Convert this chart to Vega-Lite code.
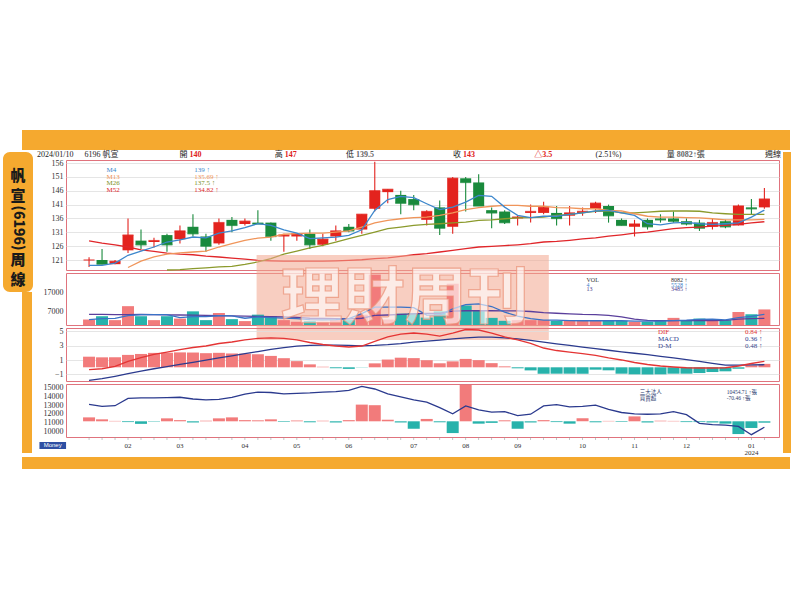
{
  "$schema": "https://vega.github.io/schema/vega-lite/v6.json",
  "background": "white",
  "padding": {"left": 3, "top": 130, "right": 0, "bottom": 0},
  "spacing": 0,
  "config": {
    "view": {"stroke": "#e0737d", "strokeWidth": 1},
    "axis": {"labelFont": "Liberation Serif", "labelFontSize": 8, "labelColor": "#333", "domain": false, "ticks": false, "grid": true, "gridColor": "#dedede", "gridWidth": 0.8, "labelPadding": 3, "labelOverlap": false},
    "concat": {"spacing": 0},
    "line": {"strokeWidth": 1.3}
  },
  "datasets": {
    "wk": [
      {"i":1,"o":121,"h":122,"l":118.5,"c":121,"v":2840,"vd":"u","m4":119.1,"m13":null,"m26":null,"m52":127.9,"v4":2800,"v13":5500,"dif":-0.33,"macd":-1.81,"dm":1.48,"inst":13090,"net":200},
      {"i":2,"o":121,"h":125,"l":119.5,"c":119.5,"v":4560,"vd":"d","m4":119.1,"m13":null,"m26":null,"m52":127.1,"v4":3300,"v13":5500,"dif":-0.2,"macd":-1.59,"dm":1.39,"inst":12860,"net":100},
      {"i":3,"o":119.5,"h":121,"l":119.5,"c":120.5,"v":2530,"vd":"u","m4":119.9,"m13":null,"m26":null,"m52":126.5,"v4":3400,"v13":5400,"dif":0.14,"macd":-1.26,"dm":1.4,"inst":12930,"net":20},
      {"i":4,"o":124.5,"h":136,"l":123.5,"c":130,"v":9780,"vd":"u","m4":122.7,"m13":118.3,"m26":null,"m52":125.7,"v4":4900,"v13":5400,"dif":0.84,"macd":-0.89,"dm":1.73,"inst":13780,"net":-40},
      {"i":5,"o":128,"h":132,"l":125,"c":126.5,"v":4560,"vd":"d","m4":124.2,"m13":120.6,"m26":null,"m52":124.7,"v4":5400,"v13":5500,"dif":1.34,"macd":-0.52,"dm":1.86,"inst":13820,"net":-130},
      {"i":6,"o":127.5,"h":129,"l":125.5,"c":128,"v":2530,"vd":"u","m4":125.7,"m13":122.1,"m26":null,"m52":124.1,"v4":5400,"v13":5400,"dif":1.81,"macd":-0.2,"dm":2.01,"inst":13820,"net":-20},
      {"i":7,"o":130,"h":130.5,"l":124,"c":126.5,"v":4560,"vd":"d","m4":127.5,"m13":123.1,"m26":117.4,"m52":123.5,"v4":5400,"v13":5300,"dif":2.13,"macd":0.1,"dm":2.03,"inst":13850,"net":150},
      {"i":8,"o":128.5,"h":133.5,"l":127,"c":131.5,"v":3340,"vd":"u","m4":128.3,"m13":123.6,"m26":117.5,"m52":123.1,"v4":3800,"v13":5200,"dif":2.48,"macd":0.4,"dm":2.08,"inst":13900,"net":60},
      {"i":9,"o":133,"h":137.5,"l":129.5,"c":130.5,"v":7090,"vd":"d","m4":129.3,"m13":123.9,"m26":117.9,"m52":122.9,"v4":4400,"v13":5100,"dif":2.76,"macd":0.7,"dm":2.06,"inst":13700,"net":-60},
      {"i":10,"o":129.5,"h":130.5,"l":124,"c":126,"v":2530,"vd":"d","m4":129.0,"m13":124.2,"m26":118.2,"m52":122.4,"v4":4400,"v13":5000,"dif":2.97,"macd":1.0,"dm":1.97,"inst":13600,"net":30},
      {"i":11,"o":127,"h":136,"l":126.5,"c":134.5,"v":6230,"vd":"u","m4":130.7,"m13":125.7,"m26":118.5,"m52":122.1,"v4":4800,"v13":4900,"dif":3.32,"macd":1.3,"dm":2.02,"inst":13650,"net":150},
      {"i":12,"o":135.5,"h":136.5,"l":131,"c":133.5,"v":3040,"vd":"d","m4":131.5,"m13":126.9,"m26":118.7,"m52":121.7,"v4":4700,"v13":4700,"dif":3.53,"macd":1.6,"dm":1.93,"inst":13900,"net":200},
      {"i":13,"o":134,"h":136,"l":133.5,"c":135,"v":2030,"vd":"u","m4":132.7,"m13":128.1,"m26":119.4,"m52":121.3,"v4":3500,"v13":4600,"dif":3.81,"macd":1.9,"dm":1.91,"inst":14250,"net":60},
      {"i":14,"o":134.5,"h":139,"l":134,"c":134,"v":5370,"vd":"d","m4":134.1,"m13":128.9,"m26":120.3,"m52":120.9,"v4":4200,"v13":4500,"dif":4.02,"macd":2.2,"dm":1.82,"inst":14500,"net":50},
      {"i":15,"o":134.5,"h":134.5,"l":128,"c":129.5,"v":4560,"vd":"d","m4":133.5,"m13":129.3,"m26":121.5,"m52":120.7,"v4":3800,"v13":4400,"dif":4.09,"macd":2.5,"dm":1.59,"inst":14450,"net":100},
      {"i":16,"o":129.5,"h":130.5,"l":124,"c":130,"v":2530,"vd":"u","m4":131.9,"m13":130.3,"m26":123.1,"m52":120.6,"v4":3600,"v13":4200,"dif":4.02,"macd":2.75,"dm":1.27,"inst":14300,"net":-30},
      {"i":17,"o":129.5,"h":130.5,"l":128,"c":130.5,"v":1670,"vd":"u","m4":130.7,"m13":130.5,"m26":124.2,"m52":120.6,"v4":3300,"v13":4000,"dif":3.81,"macd":2.95,"dm":0.86,"inst":14350,"net":40},
      {"i":18,"o":130.5,"h":132,"l":125,"c":126.5,"v":2030,"vd":"d","m4":128.7,"m13":130.7,"m26":125.4,"m52":120.6,"v4":2800,"v13":3500,"dif":3.46,"macd":3.05,"dm":0.41,"inst":14400,"net":-50},
      {"i":19,"o":126.5,"h":130.5,"l":126,"c":128.5,"v":1670,"vd":"u","m4":129.0,"m13":130.7,"m26":126.3,"m52":120.6,"v4":2700,"v13":3400,"dif":3.18,"macd":3.1,"dm":0.08,"inst":14500,"net":30},
      {"i":20,"o":129.5,"h":133.5,"l":128,"c":131.5,"v":2530,"vd":"u","m4":129.3,"m13":131.1,"m26":127.5,"m52":120.7,"v4":2800,"v13":3300,"dif":2.97,"macd":3.1,"dm":-0.13,"inst":14550,"net":-60},
      {"i":21,"o":133,"h":134,"l":131,"c":131.5,"v":2530,"vd":"d","m4":129.9,"m13":131.5,"m26":128.7,"m52":120.9,"v4":3300,"v13":3200,"dif":2.83,"macd":3.05,"dm":-0.22,"inst":14700,"net":60},
      {"i":22,"o":132,"h":137.5,"l":130.5,"c":137.5,"v":5370,"vd":"u","m4":131.9,"m13":132.9,"m26":129.9,"m52":121.1,"v4":5900,"v13":3500,"dif":2.97,"macd":3.0,"dm":-0.03,"inst":15150,"net":850},
      {"i":23,"o":139.5,"h":156.5,"l":138.5,"c":146,"v":26150,"vd":"u","m4":138.9,"m13":134.4,"m26":131.1,"m52":121.5,"v4":9300,"v13":5000,"dif":3.6,"macd":3.05,"dm":0.55,"inst":14850,"net":820},
      {"i":24,"o":145.5,"h":146.5,"l":141.5,"c":146.5,"v":2840,"vd":"u","m4":142.8,"m13":135.3,"m26":132.3,"m52":121.8,"v4":9300,"v13":5200,"dif":4.23,"macd":3.15,"dm":1.08,"inst":14300,"net":80},
      {"i":25,"o":144.5,"h":146,"l":137.5,"c":141.5,"v":5880,"vd":"d","m4":144.0,"m13":135.9,"m26":132.9,"m52":122.3,"v4":9300,"v13":5500,"dif":4.64,"macd":3.3,"dm":1.34,"inst":13950,"net":-60},
      {"i":26,"o":143,"h":144.5,"l":139,"c":141,"v":6230,"vd":"d","m4":143.5,"m13":136.3,"m26":133.5,"m52":122.9,"v4":9000,"v13":5800,"dif":4.78,"macd":3.5,"dm":1.28,"inst":13600,"net":-380},
      {"i":27,"o":135.5,"h":139,"l":133.5,"c":138.5,"v":3850,"vd":"d","m4":141.3,"m13":136.5,"m26":133.9,"m52":123.3,"v4":5100,"v13":6000,"dif":4.64,"macd":3.65,"dm":0.99,"inst":13350,"net":120},
      {"i":28,"o":140,"h":142.5,"l":130,"c":132.5,"v":7090,"vd":"d","m4":139.2,"m13":137.1,"m26":134.1,"m52":123.9,"v4":5100,"v13":6000,"dif":4.36,"macd":3.8,"dm":0.56,"inst":12700,"net":-50},
      {"i":29,"o":133,"h":151,"l":130.5,"c":150.5,"v":21430,"vd":"u","m4":140.1,"m13":138.0,"m26":134.4,"m52":124.5,"v4":8400,"v13":7200,"dif":4.78,"macd":3.95,"dm":0.83,"inst":12000,"net":-600},
      {"i":30,"o":150.5,"h":151,"l":138.5,"c":149,"v":10130,"vd":"d","m4":141.9,"m13":139.2,"m26":134.7,"m52":125.1,"v4":10600,"v13":7400,"dif":5.27,"macd":4.1,"dm":1.17,"inst":12900,"net":1850},
      {"i":31,"o":149,"h":152,"l":141,"c":140.5,"v":7250,"vd":"d","m4":144.3,"m13":139.9,"m26":135.3,"m52":125.7,"v4":10950,"v13":7400,"dif":5.2,"macd":4.2,"dm":1.0,"inst":12450,"net":-120},
      {"i":32,"o":139,"h":140,"l":132.5,"c":138,"v":3700,"vd":"d","m4":144.0,"m13":140.4,"m26":135.5,"m52":125.9,"v4":9600,"v13":7400,"dif":4.78,"macd":4.2,"dm":0.58,"inst":12200,"net":-80},
      {"i":33,"o":138.5,"h":139,"l":134,"c":134.5,"v":2180,"vd":"d","m4":140.1,"m13":140.7,"m26":135.9,"m52":126.2,"v4":6700,"v13":7300,"dif":4.23,"macd":4.1,"dm":0.13,"inst":12250,"net":50},
      {"i":34,"o":136,"h":137,"l":133.5,"c":136.5,"v":2530,"vd":"u","m4":137.1,"m13":140.7,"m26":136.2,"m52":126.5,"v4":4600,"v13":7300,"dif":3.81,"macd":3.95,"dm":-0.14,"inst":11800,"net":-380},
      {"i":35,"o":138,"h":141,"l":134.5,"c":138.5,"v":2530,"vd":"u","m4":136.3,"m13":140.4,"m26":136.3,"m52":126.9,"v4":3300,"v13":7000,"dif":3.32,"macd":3.75,"dm":-0.43,"inst":11950,"net":-60},
      {"i":36,"o":138,"h":142,"l":137.5,"c":140,"v":2530,"vd":"u","m4":136.8,"m13":140.4,"m26":136.5,"m52":127.5,"v4":2500,"v13":6400,"dif":2.69,"macd":3.5,"dm":-0.9,"inst":12900,"net":60},
      {"i":37,"o":138,"h":140.5,"l":133.5,"c":136,"v":2180,"vd":"d","m4":136.8,"m13":139.9,"m26":137.1,"m52":127.7,"v4":2500,"v13":6100,"dif":2.34,"macd":3.28,"dm":-0.89,"inst":13050,"net":-40},
      {"i":38,"o":137,"h":140.5,"l":133.5,"c":138,"v":2180,"vd":"u","m4":137.5,"m13":139.8,"m26":137.5,"m52":128.1,"v4":2300,"v13":5800,"dif":2.13,"macd":3.05,"dm":-0.89,"inst":12800,"net":-120},
      {"i":39,"o":138,"h":140,"l":137,"c":138.5,"v":2180,"vd":"u","m4":138.0,"m13":139.5,"m26":138.0,"m52":128.6,"v4":2200,"v13":5500,"dif":1.9,"macd":2.82,"dm":-0.89,"inst":12850,"net":150},
      {"i":40,"o":139.5,"h":142,"l":138,"c":141.5,"v":2180,"vd":"u","m4":138.7,"m13":139.5,"m26":138.6,"m52":129.0,"v4":2200,"v13":5400,"dif":1.65,"macd":2.6,"dm":-0.33,"inst":13000,"net":-50},
      {"i":41,"o":140.5,"h":141,"l":134.5,"c":137,"v":2180,"vd":"d","m4":138.9,"m13":138.9,"m26":138.7,"m52":129.6,"v4":2200,"v13":5000,"dif":1.3,"macd":2.38,"dm":-0.42,"inst":12500,"net":20},
      {"i":42,"o":135.5,"h":136,"l":133.5,"c":133.5,"v":2180,"vd":"d","m4":138.0,"m13":138.7,"m26":138.0,"m52":130.1,"v4":2200,"v13":4200,"dif":1.02,"macd":2.16,"dm":-0.89,"inst":12150,"net":-30},
      {"i":43,"o":133,"h":135.5,"l":129.5,"c":134,"v":1670,"vd":"u","m4":137.1,"m13":137.7,"m26":138.0,"m52":130.7,"v4":2000,"v13":3000,"dif":0.67,"macd":1.96,"dm":-0.98,"inst":12000,"net":250},
      {"i":44,"o":135.5,"h":136,"l":132,"c":133,"v":1670,"vd":"d","m4":134.1,"m13":136.8,"m26":138.3,"m52":131.1,"v4":2000,"v13":2400,"dif":0.39,"macd":1.76,"dm":-1.0,"inst":11950,"net":-60},
      {"i":45,"o":136,"h":137.5,"l":134.5,"c":135.5,"v":2030,"vd":"d","m4":133.7,"m13":136.5,"m26":138.6,"m52":131.7,"v4":2000,"v13":2300,"dif":0.18,"macd":1.52,"dm":-0.98,"inst":12000,"net":30},
      {"i":46,"o":136,"h":138.5,"l":134.5,"c":135,"v":3700,"vd":"u","m4":134.4,"m13":136.5,"m26":138.7,"m52":132.3,"v4":2300,"v13":2300,"dif":0.04,"macd":1.3,"dm":-0.89,"inst":12250,"net":20},
      {"i":47,"o":135,"h":136,"l":133.5,"c":134,"v":2530,"vd":"d","m4":134.6,"m13":136.3,"m26":138.7,"m52":132.7,"v4":2500,"v13":2300,"dif":-0.06,"macd":1.07,"dm":-0.89,"inst":11900,"net":-40},
      {"i":48,"o":134.5,"h":135.5,"l":131.5,"c":132.5,"v":3340,"vd":"d","m4":134.1,"m13":136.2,"m26":138.6,"m52":132.9,"v4":2900,"v13":2300,"dif":-0.1,"macd":0.84,"dm":-0.8,"inst":10900,"net":-40},
      {"i":49,"o":133,"h":136,"l":132,"c":134.5,"v":2530,"vd":"u","m4":133.9,"m13":135.9,"m26":138.0,"m52":133.2,"v4":3000,"v13":2300,"dif":-0.1,"macd":0.55,"dm":-0.66,"inst":10750,"net":-60},
      {"i":50,"o":135,"h":135.5,"l":132.5,"c":133,"v":2530,"vd":"d","m4":134.1,"m13":135.5,"m26":137.7,"m52":133.5,"v4":2700,"v13":2400,"dif":-0.06,"macd":0.3,"dm":-0.56,"inst":10700,"net":-120},
      {"i":51,"o":133.5,"h":141,"l":133.5,"c":140.5,"v":6740,"vd":"u","m4":134.4,"m13":135.5,"m26":137.5,"m52":133.9,"v4":3800,"v13":3000,"dif":0.18,"macd":0.3,"dm":-0.2,"inst":10550,"net":-650},
      {"i":52,"o":140,"h":143,"l":137.5,"c":139.5,"v":5570,"vd":"d","m4":136.5,"m13":135.5,"m26":137.5,"m52":134.4,"v4":4500,"v13":3300,"dif":0.53,"macd":0.33,"dm":0.28,"inst":9600,"net":-340},
      {"i":53,"o":140,"h":147,"l":139.5,"c":143,"v":8082,"vd":"u","m4":139,"m13":135.69,"m26":137.5,"m52":134.82,"v4":5528,"v13":3485,"dif":0.84,"macd":0.36,"dm":0.48,"inst":10454.71,"net":-70.46}
    ],
    "mon": [
      {"i":4,"m":"02"},{"i":8,"m":"03"},{"i":13,"m":"04"},{"i":17,"m":"05"},{"i":21,"m":"06"},{"i":26,"m":"07"},
      {"i":30,"m":"08"},{"i":34,"m":"09"},{"i":39,"m":"10"},{"i":43,"m":"11"},{"i":47,"m":"12"},{"i":52,"m":["01","2024"]}
    ],
    "hdr": [
      {"key":"date","lab":"2024/01/10","val":"","tone":"flat"},
      {"key":"name","lab":"6196 帆宣","val":"","tone":"flat"},
      {"key":"open","lab":"開","val":"140","tone":"up"},
      {"key":"high","lab":"高","val":"147","tone":"up"},
      {"key":"low","lab":"低","val":"139.5","tone":"flat"},
      {"key":"close","lab":"收","val":"143","tone":"up"},
      {"key":"chg","lab":"","val":"△3.5","tone":"up"},
      {"key":"pct","lab":"(2.51%)","val":"","tone":"flat"},
      {"key":"vol","lab":"量","val":"8082↑張","tone":"flat"},
      {"key":"period","lab":"週線","val":"","tone":"flat"}
    ],
    "tab": [
      {"t":"帆"},
      {"t":"宣"},
      {"t":"(6196)"},
      {"t":"周"},
      {"t":"線"}
    ],
    "lg1": [
      {"s":"M4","val":"139 ↑"},
      {"s":"M13","val":"135.69 ↑"},
      {"s":"M26","val":"137.5 ↑"},
      {"s":"M52","val":"134.82 ↑"}
    ],
    "lg2": [
      {"s":"VOL","val":"8082 ↑"},
      {"s":"4","val":"5528 ↑"},
      {"s":"13","val":"3485 ↑"}
    ],
    "lg3": [
      {"s":"DIF","val":"0.84 ↑"},
      {"s":"MACD","val":"0.36 ↑"},
      {"s":"D-M","val":"0.48 ↑"}
    ],
    "lg4": [
      {"s":"三大法人","val":"10454.71 ↑張"},
      {"s":"買賣超","val":"-70.46 ↑張"}
    ],
    "wm": [
      {"t":"理財周刊"}
    ],
    "logo": [
      {"t":"Money"}
    ]
  },
  "vconcat": [
    {"hconcat": [
      {"width": 19, "height": 20, "data": {"values": []}, "mark": "rect", "encoding": {}, "view": {"stroke": null}},
      {"width": 768, "height": 20, "data": {"values": []}, "mark": "rect", "encoding": {}, "view": {"fill": "#f5a92f", "stroke": null}}
    ]},
    {"hconcat": [
      {"vconcat": [
        {"width": 30, "height": 140, "data": {"name": "tab"}, "view": {"fill": "#f5a92f", "stroke": null, "cornerRadius": 7},
         "mark": {"type": "text", "font": "Noto Sans CJK TC", "fontWeight": 900, "align": "center", "baseline": "middle", "color": "#1a1a1a"},
         "encoding": {
           "y": {"field": "t", "type": "nominal", "axis": null,
             "scale": {"type": "point", "padding": 0, "domain": ["_0","_1","_2","_3","_4","_5","帆","_7","_8","_9","_10","宣","_12","_13","_14","_15","_16","_17","_18","(6196)","_20","_21","_22","_23","_24","_25","_26","周","_28","_29","_30","_31","線","_33","_34","_35"]}},
           "text": {"field": "t"},
           "size": {"condition": {"test": "datum.t === '(6196)'", "value": 14}, "value": 15},
           "angle": {"condition": {"test": "datum.t === '(6196)'", "value": 90}, "value": 0}
         }},
        {"hconcat": [
          {"width": 19, "height": 161, "data": {"values": []}, "mark": "rect", "encoding": {}, "view": {"stroke": null}},
          {"width": 10, "height": 161, "data": {"values": []}, "mark": "rect", "encoding": {}, "view": {"fill": "#f5a92f", "stroke": null}}
        ]}
      ]},
      {"spacing": 3, "bounds": "flush", "vconcat": [
        {"width": 713, "height": 5, "data": {"name": "hdr"}, "view": {"stroke": null},
         "encoding": {"x": {"field": "key", "type": "nominal", "axis": null,
           "scale": {"type": "point", "padding": 0,
             "domain": ["date","_1","_2","_3","name","_5","_6","_7","_8","_9","_10","_11","open","_13","_14","_15","_16","_17","_18","_19","high","_21","_22","_23","_24","_25","low","_27","_28","_29","_30","_31","_32","_33","_34","close","_36","_37","_38","_39","_40","chg","_42","_43","_44","_45","_46","pct","_48","_49","_50","_51","_52","vol","_54","_55","_56","_57","_58","_59","period"]}}},
         "layer": [
           {"transform": [{"filter": "datum.key !== 'period'"}],
            "mark": {"type": "text", "align": "left", "baseline": "middle", "dx": -29, "fontSize": 8, "font": "Liberation Serif, Noto Sans CJK TC", "color": "#222"},
            "encoding": {"text": {"field": "lab"}, "fontWeight": {"condition": {"test": "datum.key === 'date'", "value": "bold"}, "value": "normal"}}},
           {"transform": [{"filter": "datum.key === 'period'"}],
            "mark": {"type": "text", "align": "left", "baseline": "middle", "dx": -14, "fontSize": 8, "font": "Liberation Serif, Noto Sans CJK TC", "color": "#222"},
            "encoding": {"text": {"field": "lab"}}},
           {"mark": {"type": "text", "align": "left", "baseline": "middle", "dx": -19, "fontSize": 8, "fontWeight": "bold", "font": "Liberation Serif, Noto Sans CJK TC"},
            "encoding": {"text": {"field": "val"}, "color": {"condition": {"test": "datum.tone === 'up'", "value": "#e02020"}, "value": "#666"}}}
         ]},
        {"width": 713, "height": 110,
         "layer": [
           {"data": {"name": "wk"},
            "mark": {"type": "rule", "strokeWidth": 1.1},
            "encoding": {
              "x": {"field": "i", "type": "quantitative", "scale": {"domain": [-0.39, 53.74], "nice": false, "zero": false}, "axis": null},
              "y": {"field": "l", "type": "quantitative", "scale": {"domain": [117.4, 157.1], "nice": false, "zero": false}, "axis": {"values": [121,126,131,136,141,146,151,156], "minExtent": 32, "maxExtent": 32, "title": null}},
              "y2": {"field": "h"},
              "color": {"condition": {"test": "datum.c >= datum.o", "value": "#e3231e"}, "value": "#198a3c"}}},
           {"data": {"name": "wk"},
            "mark": {"type": "bar", "width": 11},
            "encoding": {
              "x": {"field": "i", "type": "quantitative", "scale": {"domain": [-0.39, 53.74], "nice": false, "zero": false}, "axis": null},
              "y": {"field": "o", "type": "quantitative", "scale": {"domain": [117.4, 157.1], "nice": false, "zero": false}, "axis": null},
              "y2": {"field": "c"},
              "color": {"condition": {"test": "datum.c >= datum.o", "value": "#e3231e"}, "value": "#198a3c"}}},
           {"data": {"name": "wk"},
            "mark": {"type": "tick", "orient": "horizontal", "size": 11, "thickness": 1.4},
            "encoding": {
              "x": {"field": "i", "type": "quantitative", "scale": {"domain": [-0.39, 53.74], "nice": false, "zero": false}, "axis": null},
              "y": {"field": "c", "type": "quantitative", "scale": {"domain": [117.4, 157.1], "nice": false, "zero": false}, "axis": null},
              "color": {"condition": {"test": "datum.c >= datum.o", "value": "#e3231e"}, "value": "#198a3c"}}},
           {"data": {"name": "wk"},
            "mark": {"type": "line", "color": "#e0262a"},
            "encoding": {"x": {"field": "i", "type": "quantitative", "scale": {"domain": [-0.39, 53.74], "nice": false, "zero": false}, "axis": null},
              "y": {"field": "m52", "type": "quantitative", "scale": {"domain": [117.4, 157.1], "nice": false, "zero": false}, "axis": null}}},
           {"data": {"name": "wk"},
            "mark": {"type": "line", "color": "#8b9a2c"},
            "encoding": {"x": {"field": "i", "type": "quantitative", "scale": {"domain": [-0.39, 53.74], "nice": false, "zero": false}, "axis": null},
              "y": {"field": "m26", "type": "quantitative", "scale": {"domain": [117.4, 157.1], "nice": false, "zero": false}, "axis": null}}},
           {"data": {"name": "wk"},
            "mark": {"type": "line", "color": "#f0955a"},
            "encoding": {"x": {"field": "i", "type": "quantitative", "scale": {"domain": [-0.39, 53.74], "nice": false, "zero": false}, "axis": null},
              "y": {"field": "m13", "type": "quantitative", "scale": {"domain": [117.4, 157.1], "nice": false, "zero": false}, "axis": null}}},
           {"data": {"name": "wk"},
            "mark": {"type": "line", "color": "#3d87cc"},
            "encoding": {"x": {"field": "i", "type": "quantitative", "scale": {"domain": [-0.39, 53.74], "nice": false, "zero": false}, "axis": null},
              "y": {"field": "m4", "type": "quantitative", "scale": {"domain": [117.4, 157.1], "nice": false, "zero": false}, "axis": null}}},
           {"data": {"name": "lg1"},
            "encoding": {
              "y": {"field": "s", "type": "nominal", "axis": null,
                "scale": {"type": "point", "padding": 0.47, "align": 0.43, "domain": ["_0","M4","M13","M26","M52","_5","_6","_7","_8","_9","_10","_11","_12","_13","_14","_15"]}},
              "color": {"field": "s", "type": "nominal", "scale": {"domain": ["M4","M13","M26","M52"], "range": ["#3d87cc","#f0955a","#7d8f1f","#e0262a"]}, "legend": null}},
            "layer": [
              {"mark": {"type": "text", "align": "left", "baseline": "middle", "fontSize": 7, "font": "Liberation Serif"},
               "encoding": {"x": {"datum": 2.34, "type": "quantitative", "scale": {"domain": [-0.39, 53.74], "nice": false, "zero": false}, "axis": null}, "text": {"field": "s"}}},
              {"mark": {"type": "text", "align": "left", "baseline": "middle", "fontSize": 7, "font": "Liberation Serif"},
               "encoding": {"x": {"datum": 9.1, "type": "quantitative", "scale": {"domain": [-0.39, 53.74], "nice": false, "zero": false}, "axis": null}, "text": {"field": "val"}}}
            ]}
         ],
         "resolve": {"scale": {"y": "independent", "color": "independent"}}},
        {"width": 713, "height": 52,
         "layer": [
           {"data": {"name": "wm"},
            "mark": {"type": "rect", "fill": "#f3a58e", "fillOpacity": 0.55},
            "encoding": {
              "x": {"datum": 13.9, "type": "quantitative", "scale": {"domain": [-0.39, 53.74], "nice": false, "zero": false}, "axis": null},
              "x2": {"datum": 36.4},
              "y": {"datum": 36350, "type": "quantitative", "scale": {"domain": [0, 27000], "nice": false}, "axis": null},
              "y2": {"datum": -7790}}},
           {"data": {"name": "wk"},
            "mark": {"type": "bar", "width": 12},
            "encoding": {
              "x": {"field": "i", "type": "quantitative", "scale": {"domain": [-0.39, 53.74], "nice": false, "zero": false}, "axis": null},
              "y": {"field": "v", "type": "quantitative", "scale": {"domain": [0, 27000], "nice": false}, "axis": {"values": [7000, 17000], "format": "d", "minExtent": 32, "maxExtent": 32, "title": null}},
              "color": {"condition": {"test": "datum.vd === 'u'", "value": "#f27b7b"}, "value": "#27b2ab"}}},
           {"data": {"name": "wk"},
            "mark": {"type": "line", "color": "#5a3f9c"},
            "encoding": {"x": {"field": "i", "type": "quantitative", "scale": {"domain": [-0.39, 53.74], "nice": false, "zero": false}, "axis": null},
              "y": {"field": "v13", "type": "quantitative", "scale": {"domain": [0, 27000], "nice": false}, "axis": null}}},
           {"data": {"name": "wk"},
            "mark": {"type": "line", "color": "#3a72c6"},
            "encoding": {"x": {"field": "i", "type": "quantitative", "scale": {"domain": [-0.39, 53.74], "nice": false, "zero": false}, "axis": null},
              "y": {"field": "v4", "type": "quantitative", "scale": {"domain": [0, 27000], "nice": false}, "axis": null}}},
           {"data": {"name": "wm"},
            "mark": {"type": "text", "font": "Noto Sans CJK TC", "fontWeight": "bold", "fontSize": 62, "align": "center", "baseline": "middle", "fill": "#ffffff", "fillOpacity": 0.6, "stroke": "#e98f74", "strokeWidth": 1.2, "strokeOpacity": 0.7},
            "encoding": {
              "x": {"datum": 25.3, "type": "quantitative", "scale": {"domain": [-0.39, 53.74], "nice": false, "zero": false}, "axis": null},
              "y": {"datum": 12980, "type": "quantitative", "scale": {"domain": [0, 27000], "nice": false}, "axis": null},
              "text": {"field": "t"}}},
           {"data": {"name": "lg2"},
            "encoding": {
              "y": {"field": "s", "type": "nominal", "axis": null,
                "scale": {"type": "point", "padding": 0.28, "align": 1, "domain": ["_0","VOL","4","13","_4","_5","_6","_7","_8","_9","_10","_11"]}},
              "color": {"field": "s", "type": "nominal", "scale": {"domain": ["VOL","4","13"], "range": ["#333333","#3a7cc8","#4a3a8c"]}, "legend": null}},
            "layer": [
              {"mark": {"type": "text", "align": "left", "baseline": "middle", "fontSize": 6, "font": "Liberation Serif"},
               "encoding": {"x": {"datum": 39.3, "type": "quantitative", "scale": {"domain": [-0.39, 53.74], "nice": false, "zero": false}, "axis": null}, "text": {"field": "s"}}},
              {"mark": {"type": "text", "align": "left", "baseline": "middle", "fontSize": 6, "font": "Liberation Serif"},
               "encoding": {"x": {"datum": 45.8, "type": "quantitative", "scale": {"domain": [-0.39, 53.74], "nice": false, "zero": false}, "axis": null}, "text": {"field": "val"}}}
            ]}
         ],
         "resolve": {"scale": {"y": "independent", "color": "independent"}}},
        {"width": 713, "height": 53,
         "layer": [
           {"data": {"name": "wk"},
            "mark": {"type": "bar", "width": 12},
            "encoding": {
              "x": {"field": "i", "type": "quantitative", "scale": {"domain": [-0.39, 53.74], "nice": false, "zero": false}, "axis": null},
              "y": {"field": "dm", "type": "quantitative", "scale": {"domain": [-1.91, 5.48], "nice": false, "zero": false}, "axis": {"values": [-1, 1, 3, 5], "minExtent": 32, "maxExtent": 32, "title": null}},
              "y2": {"datum": 0},
              "color": {"condition": {"test": "datum.dm >= 0", "value": "#f27b7b"}, "value": "#27b2ab"}}},
           {"data": {"name": "wk"},
            "mark": {"type": "line", "color": "#2b3a8e"},
            "encoding": {"x": {"field": "i", "type": "quantitative", "scale": {"domain": [-0.39, 53.74], "nice": false, "zero": false}, "axis": null},
              "y": {"field": "macd", "type": "quantitative", "scale": {"domain": [-1.91, 5.48], "nice": false, "zero": false}, "axis": null}}},
           {"data": {"name": "wk"},
            "mark": {"type": "line", "color": "#e43434"},
            "encoding": {"x": {"field": "i", "type": "quantitative", "scale": {"domain": [-0.39, 53.74], "nice": false, "zero": false}, "axis": null},
              "y": {"field": "dif", "type": "quantitative", "scale": {"domain": [-1.91, 5.48], "nice": false, "zero": false}, "axis": null}}},
           {"data": {"name": "lg3"},
            "encoding": {
              "y": {"field": "s", "type": "nominal", "axis": null,
                "scale": {"type": "point", "padding": 0.286, "align": 1, "domain": ["DIF","MACD","D-M","_3","_4","_5","_6","_7"]}},
              "color": {"field": "s", "type": "nominal", "scale": {"domain": ["DIF","MACD","D-M"], "range": ["#e43434","#2b3a8e","#3b4a8e"]}, "legend": null}},
            "layer": [
              {"mark": {"type": "text", "align": "left", "baseline": "middle", "fontSize": 7, "font": "Liberation Serif"},
               "encoding": {"x": {"datum": 44.8, "type": "quantitative", "scale": {"domain": [-0.39, 53.74], "nice": false, "zero": false}, "axis": null}, "text": {"field": "s"}}},
              {"mark": {"type": "text", "align": "left", "baseline": "middle", "fontSize": 7, "font": "Liberation Serif"},
               "encoding": {"x": {"datum": 51.5, "type": "quantitative", "scale": {"domain": [-0.39, 53.74], "nice": false, "zero": false}, "axis": null}, "text": {"field": "val"}}}
            ]}
         ],
         "resolve": {"scale": {"y": "independent", "color": "independent"}}},
        {"width": 713, "height": 53,
         "layer": [
           {"data": {"name": "wk"},
            "mark": {"type": "bar", "width": 12},
            "encoding": {
              "x": {"field": "i", "type": "quantitative", "scale": {"domain": [-0.39, 53.74], "nice": false, "zero": false}, "axis": null},
              "y": {"field": "net", "type": "quantitative", "scale": {"domain": [-800, 1900], "nice": false, "zero": false}, "axis": null},
              "y2": {"datum": 0},
              "color": {"condition": {"test": "datum.net >= 0", "value": "#f27b7b"}, "value": "#27b2ab"}}},
           {"data": {"name": "wk"},
            "mark": {"type": "line", "color": "#2b3a8e"},
            "encoding": {
              "x": {"field": "i", "type": "quantitative", "scale": {"domain": [-0.39, 53.74], "nice": false, "zero": false}, "axis": null},
              "y": {"field": "inst", "type": "quantitative", "scale": {"domain": [9333, 15425], "nice": false, "zero": false}, "axis": {"values": [10000, 11000, 12000, 13000, 14000, 15000], "format": "d", "labelOverlap": false, "minExtent": 32, "maxExtent": 32, "title": null}}}},
           {"data": {"name": "wk"},
            "mark": {"type": "tick", "orient": "vertical", "size": 3, "thickness": 0.8, "color": "#999"},
            "encoding": {
              "x": {"field": "i", "type": "quantitative", "scale": {"domain": [-0.39, 53.74], "nice": false, "zero": false}, "axis": null},
              "y": {"datum": 9160, "type": "quantitative", "scale": {"domain": [9333, 15425], "nice": false, "zero": false}, "axis": null}}},
           {"data": {"name": "mon"},
            "mark": {"type": "text", "align": "center", "baseline": "middle", "fontSize": 7, "lineHeight": 7.5, "font": "Liberation Serif", "color": "#333"},
            "encoding": {
              "x": {"field": "i", "type": "quantitative", "scale": {"domain": [-0.39, 53.74], "nice": false, "zero": false}, "axis": null},
              "y": {"datum": 8300, "type": "quantitative", "scale": {"domain": [9333, 15425], "nice": false, "zero": false}, "axis": null},
              "text": {"field": "m"}}},
           {"data": {"name": "logo"},
            "mark": {"type": "rect", "fill": "#2e4fa3"},
            "encoding": {
              "x": {"datum": -2.82, "type": "quantitative", "scale": {"domain": [-0.39, 53.74], "nice": false, "zero": false}, "axis": null},
              "x2": {"datum": -0.77},
              "y": {"datum": 8758, "type": "quantitative", "scale": {"domain": [9333, 15425], "nice": false, "zero": false}, "axis": null},
              "y2": {"datum": 7954}}},
           {"data": {"name": "logo"},
            "mark": {"type": "text", "align": "center", "baseline": "middle", "fontSize": 6, "font": "Liberation Sans", "color": "#ffffff"},
            "encoding": {
              "x": {"datum": -1.8, "type": "quantitative", "scale": {"domain": [-0.39, 53.74], "nice": false, "zero": false}, "axis": null},
              "y": {"datum": 8356, "type": "quantitative", "scale": {"domain": [9333, 15425], "nice": false, "zero": false}, "axis": null},
              "text": {"field": "t"}}},
           {"data": {"name": "lg4"},
            "encoding": {
              "y": {"field": "s", "type": "nominal", "axis": null,
                "scale": {"type": "point", "padding": 0.417, "align": 0.3, "domain": ["_0","三大法人","買賣超","_3","_4","_5","_6","_7","_8"]}}},
            "layer": [
              {"mark": {"type": "text", "align": "left", "baseline": "middle", "fontSize": 5.5, "font": "Liberation Serif, Noto Sans CJK TC", "color": "#2b3a6e"},
               "encoding": {"x": {"datum": 43.4, "type": "quantitative", "scale": {"domain": [-0.39, 53.74], "nice": false, "zero": false}, "axis": null}, "text": {"field": "s"}}},
              {"mark": {"type": "text", "align": "left", "baseline": "middle", "fontSize": 5.5, "font": "Liberation Serif, Noto Sans CJK TC", "color": "#2b3a6e"},
               "encoding": {"x": {"datum": 50.1, "type": "quantitative", "scale": {"domain": [-0.39, 53.74], "nice": false, "zero": false}, "axis": null}, "text": {"field": "val"}}}
            ]}
         ],
         "resolve": {"scale": {"y": "independent"}}}
      ]},
      {"width": 2, "height": 301, "data": {"values": []}, "mark": "rect", "encoding": {}, "view": {"stroke": null}},
      {"width": 8, "height": 301, "data": {"values": []}, "mark": "rect", "encoding": {}, "view": {"fill": "#f5a92f", "stroke": null}}
    ]},
    {"hconcat": [
      {"width": 19, "height": 12, "data": {"values": []}, "mark": "rect", "encoding": {}, "view": {"stroke": null}},
      {"width": 768, "height": 12, "data": {"values": []}, "mark": "rect", "encoding": {}, "view": {"fill": "#f5a92f", "stroke": null}}
    ]}
  ]
}
